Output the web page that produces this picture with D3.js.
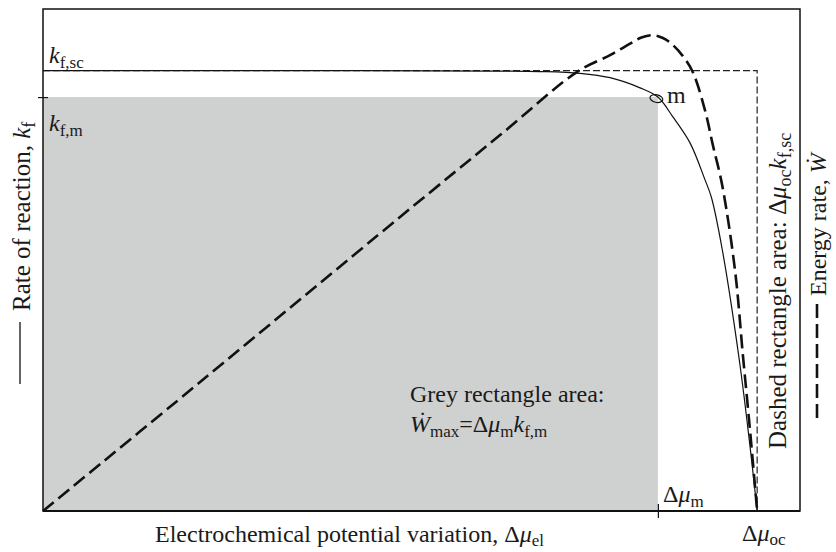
<!DOCTYPE html>
<html><head><meta charset="utf-8">
<script src="https://cdn.jsdelivr.net/npm/d3@7"></script>
<style>
body{margin:0;background:#fff;}
text{font-family:"Liberation Serif","Times New Roman",serif;fill:#1a1a1a;}
</style></head><body>
<svg id="chart" width="836" height="552"></svg>
<script>
// Reaction rate k_f (normalised to k_f,sc) against potential variation (normalised to Δμ_oc)
const rateMu = [0, 0.36, 0.64, 0.696, 0.752, 0.794, 0.836, 0.861, 0.882, 0.906, 0.927, 0.936, 0.951, 0.975, 0.989, 1.0];
const rateKf = [1.0, 1.0, 0.999, 0.998, 0.994, 0.984, 0.961, 0.940, 0.895, 0.836, 0.752, 0.712, 0.595, 0.343, 0.161, 0];
// Energy rate Ẇ (normalised to its maximum) against the same potential variation
const energyMu = [0, 0.220, 0.500, 0.640, 0.749, 0.794, 0.822, 0.838, 0.853, 0.868, 0.880, 0.896, 0.910, 0.927, 0.938, 0.951, 0.969, 0.980, 0.990, 1.0];
const energyW = [0, 0.271, 0.618, 0.790, 0.924, 0.958, 0.982, 0.995, 1.0, 0.994, 0.982, 0.956, 0.922, 0.842, 0.769, 0.685, 0.506, 0.328, 0.170, 0];
// Reference levels: maximum-power point and short-circuit / open-circuit limits
const muM = 0.861, muOc = 1.0;
const kfM = 0.94, kfSc = 1.0;
const xTicks = [muM];
const yTicks = [kfM];

const FS = 24, SUB = 17, SHIFT = 5;
const svg = d3.select("#chart");

const x = d3.scaleLinear().domain([0, 1.06]).range([43, 800]);
const y = d3.scaleLinear().domain([0, 1.14]).range([511, 9]);
const yW = d3.scaleLinear().domain([0, 1.055]).range([511, 9]);

// grey rectangle: Δμ_m × k_f,m
svg.append("rect")
  .attr("x", x(0)).attr("y", y(kfM))
  .attr("width", x(muM) - x(0)).attr("height", y(0) - y(kfM))
  .attr("fill", "#cfd0d0");

// dashed rectangle: Δμ_oc × k_f,sc
svg.append("path")
  .attr("d", `M${x(0)},${y(kfSc)}H${x(muOc)}V${y(0)}`)
  .attr("fill", "none").attr("stroke", "#222").attr("stroke-width", 1.2)
  .attr("stroke-dasharray", "7 3");

// k_f curve
const rateLine = d3.line().x(d => x(d[0])).y(d => y(d[1])).curve(d3.curveCatmullRom.alpha(0.5));
svg.append("path")
  .datum(d3.zip(rateMu, rateKf))
  .attr("d", rateLine)
  .attr("fill", "none").attr("stroke", "#111").attr("stroke-width", 1.2);

// energy rate curve
const energyLine = d3.line().x(d => x(d[0])).y(d => yW(d[1])).curve(d3.curveCatmullRom.alpha(0.5));
svg.append("path")
  .datum(d3.zip(energyMu, energyW))
  .attr("d", energyLine)
  .attr("fill", "none").attr("stroke", "#111").attr("stroke-width", 2.6)
  .attr("stroke-dasharray", "14 6");

// frame
svg.append("rect")
  .attr("x", x.range()[0]).attr("y", y.range()[1])
  .attr("width", x.range()[1] - x.range()[0]).attr("height", y.range()[0] - y.range()[1])
  .attr("fill", "none").attr("stroke", "#111").attr("stroke-width", 1.5);
svg.append("line")
  .attr("x1", x.range()[0]).attr("x2", x.range()[1])
  .attr("y1", y(0)).attr("y2", y(0))
  .attr("stroke", "#111").attr("stroke-width", 2.2);

// ticks at Δμ_m and k_f,m
const xAxis = svg.append("g").attr("transform", `translate(0,${y(0)})`)
  .call(d3.axisBottom(x).tickValues(xTicks).tickFormat("").tickSizeInner(7).tickSizeOuter(0));
xAxis.select(".domain").remove();
xAxis.selectAll(".tick line").attr("y1", -7).attr("stroke", "#111").attr("stroke-width", 1.2);

const yAxis = svg.append("g").attr("transform", `translate(${x(0)},0)`)
  .call(d3.axisLeft(y).tickValues(yTicks).tickFormat("").tickSizeInner(5).tickSizeOuter(0));
yAxis.select(".domain").remove();
yAxis.selectAll(".tick line").attr("x1", 5).attr("stroke", "#111").attr("stroke-width", 1.2);

// maximum-power point marker
svg.append("ellipse")
  .attr("cx", x(muM) - 1.5).attr("cy", y(kfM) + 1.5)
  .attr("rx", 6.5).attr("ry", 3.8)
  .attr("transform", `rotate(12,${x(muM) - 1.5},${y(kfM) + 1.5})`)
  .attr("fill", "none").attr("stroke", "#111").attr("stroke-width", 1.2);

// text with italic symbols and subscripts
function rich(sel, parts, size = FS, sub = SUB, shift = SHIFT) {
  let cur = 0;
  sel.attr("font-size", size);
  parts.forEach(([t, s]) => {
    const ts = sel.append("tspan").text(t);
    const target = s === "sub" ? shift : 0;
    if (target !== cur) ts.attr("dy", target - cur);
    cur = target;
    if (s === "i") ts.attr("font-style", "italic");
    if (s === "sub") ts.attr("font-size", sub);
  });
  return sel;
}

rich(svg.append("text").attr("x", 49).attr("y", 63), [["k", "i"], ["f,sc", "sub"]]);
rich(svg.append("text").attr("x", 49).attr("y", 131), [["k", "i"], ["f,m", "sub"]]);
rich(svg.append("text").attr("x", 667).attr("y", 103), [["m", "n"]]);

rich(svg.append("text").attr("x", 410).attr("y", 402), [["Grey rectangle area:", "n"]]);
rich(svg.append("text").attr("x", 410).attr("y", 432),
  [["Ẇ", "i"], ["max", "sub"], ["=Δ", "n"], ["μ", "i"], ["m", "sub"], ["k", "i"], ["f,m", "sub"]]);

rich(svg.append("text").attr("x", 663).attr("y", 502), [["Δ", "n"], ["μ", "i"], ["m", "sub"]]);
rich(svg.append("text").attr("x", 742).attr("y", 541), [["Δ", "n"], ["μ", "i"], ["oc", "sub"]], FS, SUB, 4);

rich(svg.append("text").attr("x", 155).attr("y", 542),
  [["Electrochemical potential variation, Δ", "n"], ["μ", "i"], ["el", "sub"]], FS, SUB, 4);

// left axis title with solid-line key
svg.append("line").attr("x1", 20).attr("x2", 20).attr("y1", 322).attr("y2", 384)
  .attr("stroke", "#111").attr("stroke-width", 1.3);
rich(svg.append("text").attr("transform", "translate(30,311) rotate(-90)"),
  [["Rate of reaction, ", "n"], ["k", "i"], ["f", "sub"]], 25, 18);

// right-side titles
rich(svg.append("text").attr("transform", "translate(786,449) rotate(-90)"),
  [["Dashed rectangle area: Δ", "n"], ["μ", "i"], ["oc", "sub"], ["k", "i"], ["f,sc", "sub"]], 25, 18);
rich(svg.append("text").attr("transform", "translate(826,296) rotate(-90)"),
  [["Energy rate, ", "n"], ["Ẇ", "i"]]);
svg.append("line").attr("x1", 817).attr("x2", 817).attr("y1", 304).attr("y2", 418)
  .attr("stroke", "#111").attr("stroke-width", 2.6).attr("stroke-dasharray", "14 6");
</script>
</body></html>
